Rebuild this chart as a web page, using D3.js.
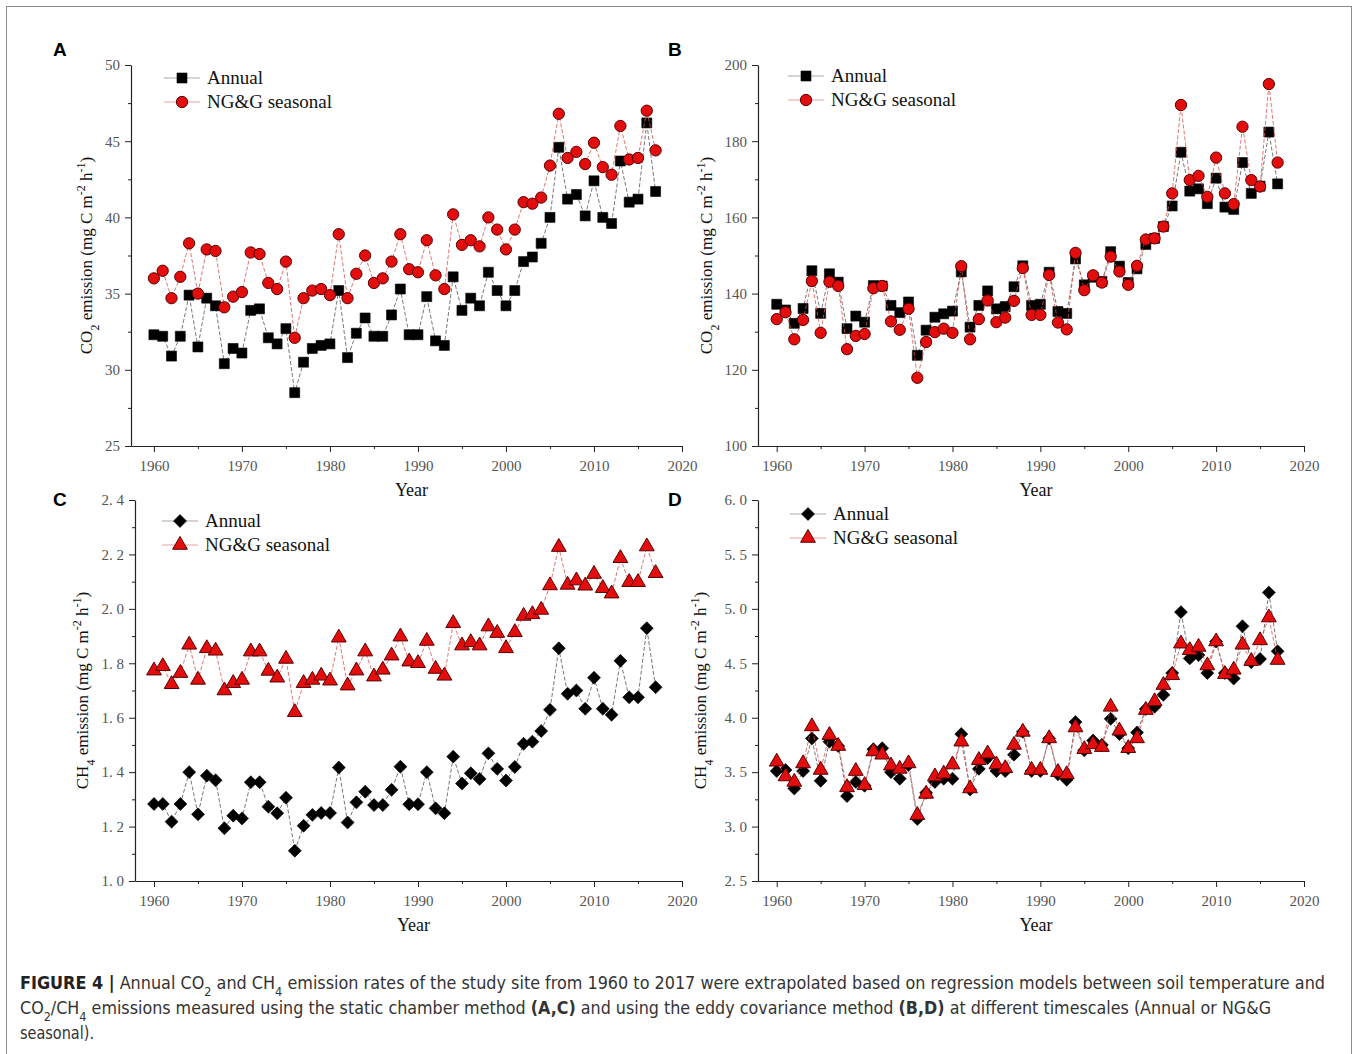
<!DOCTYPE html>
<html>
<head>
<meta charset="utf-8">
<script src="https://cdn.jsdelivr.net/npm/d3@7"></script>
<style>
  body { margin: 0; background: #fff; }
  svg { display: block; }
</style>
</head>
<body>
<div id="chart"></div>
<script>
// years on the x axis
var years = [1960, 1961, 1962, 1963, 1964, 1965, 1966, 1967, 1968, 1969,
    1970, 1971, 1972, 1973, 1974, 1975, 1976, 1977, 1978, 1979,
    1980, 1981, 1982, 1983, 1984, 1985, 1986, 1987, 1988, 1989,
    1990, 1991, 1992, 1993, 1994, 1995, 1996, 1997, 1998, 1999,
    2000, 2001, 2002, 2003, 2004, 2005, 2006, 2007, 2008, 2009,
    2010, 2011, 2012, 2013, 2014, 2015, 2016, 2017];

// A: CO2, static chamber
var co2ChamberAnnual = [32.3, 32.2, 30.9, 32.2, 34.9, 31.5, 34.7, 34.2, 30.4, 31.4,
    31.1, 33.9, 34.0, 32.1, 31.7, 32.7, 28.5, 30.5, 31.4, 31.6,
    31.7, 35.2, 30.8, 32.4, 33.4, 32.2, 32.2, 33.6, 35.3, 32.3,
    32.3, 34.8, 31.9, 31.6, 36.1, 33.9, 34.7, 34.2, 36.4, 35.2,
    34.2, 35.2, 37.1, 37.4, 38.3, 40.0, 44.6, 41.2, 41.5, 40.1,
    42.4, 40.0, 39.6, 43.7, 41.0, 41.2, 46.2, 41.7];
var co2ChamberSeasonal = [36.0, 36.5, 34.7, 36.1, 38.3, 35.0, 37.9, 37.8, 34.1, 34.8,
    35.1, 37.7, 37.6, 35.7, 35.3, 37.1, 32.1, 34.7, 35.2, 35.3,
    34.9, 38.9, 34.7, 36.3, 37.5, 35.7, 36.0, 37.1, 38.9, 36.6,
    36.4, 38.5, 36.2, 35.3, 40.2, 38.2, 38.5, 38.1, 40.0, 39.2,
    37.9, 39.2, 41.0, 40.9, 41.3, 43.4, 46.8, 43.9, 44.3, 43.5,
    44.9, 43.3, 42.8, 46.0, 43.8, 43.9, 47.0, 44.4];

// B: CO2, eddy covariance
var co2EddyAnnual = [137.2, 135.7, 132.2, 136.1, 146.0, 134.8, 145.2, 143.0, 130.8, 134.1,
    132.5, 142.1, 142.0, 136.9, 135.0, 137.8, 123.8, 130.4, 133.8, 134.7,
    135.4, 145.7, 131.2, 136.9, 140.7, 136.0, 136.6, 141.8, 147.3, 136.9,
    137.2, 145.6, 135.3, 134.8, 149.1, 142.3, 144.3, 143.2, 151.0, 147.2,
    142.9, 146.5, 152.9, 154.5, 157.6, 163.0, 177.1, 166.9, 167.5, 163.6,
    170.3, 162.7, 162.1, 174.4, 166.3, 168.2, 182.4, 168.8];
var co2EddySeasonal = [133.3, 135.1, 128.0, 133.1, 143.3, 129.7, 143.1, 142.0, 125.4, 128.9,
    129.4, 141.4, 142.0, 132.7, 130.5, 136.0, 117.9, 127.3, 129.9, 130.8,
    129.7, 147.2, 128.0, 133.3, 138.2, 132.5, 133.7, 138.1, 146.7, 134.4,
    134.4, 144.9, 132.4, 130.6, 150.7, 140.9, 144.8, 142.9, 149.7, 145.8,
    142.3, 147.3, 154.2, 154.5, 157.6, 166.3, 189.5, 169.8, 170.9, 165.4,
    175.7, 166.3, 163.5, 183.8, 169.8, 168.1, 195.0, 174.4];

// C: CH4, static chamber
var ch4ChamberAnnual = [1.283, 1.283, 1.218, 1.283, 1.400, 1.245, 1.387, 1.370, 1.194, 1.240,
    1.230, 1.363, 1.363, 1.273, 1.249, 1.306, 1.111, 1.203, 1.243, 1.250,
    1.250, 1.417, 1.215, 1.289, 1.328, 1.279, 1.279, 1.335, 1.420, 1.282,
    1.282, 1.400, 1.267, 1.249, 1.457, 1.358, 1.396, 1.375, 1.469, 1.412,
    1.369, 1.419, 1.504, 1.512, 1.551, 1.629, 1.855, 1.688, 1.700, 1.633,
    1.747, 1.633, 1.611, 1.809, 1.675, 1.675, 1.929, 1.712];
var ch4ChamberSeasonal = [1.773, 1.789, 1.723, 1.764, 1.868, 1.739, 1.855, 1.846, 1.700, 1.727,
    1.739, 1.843, 1.843, 1.772, 1.747, 1.816, 1.620, 1.727, 1.739, 1.754,
    1.736, 1.894, 1.718, 1.773, 1.843, 1.751, 1.776, 1.828, 1.898, 1.806,
    1.800, 1.882, 1.779, 1.754, 1.947, 1.865, 1.877, 1.865, 1.935, 1.911,
    1.855, 1.914, 1.974, 1.980, 1.996, 2.086, 2.227, 2.088, 2.104, 2.085,
    2.128, 2.076, 2.056, 2.186, 2.098, 2.098, 2.229, 2.131];

// D: CH4, eddy covariance
var ch4EddyAnnual = [3.51, 3.52, 3.35, 3.51, 3.81, 3.42, 3.78, 3.74, 3.28, 3.41,
    3.375, 3.71, 3.72, 3.50, 3.44, 3.565, 3.07, 3.31, 3.41, 3.44,
    3.44, 3.85, 3.34, 3.53, 3.63, 3.51, 3.51, 3.66, 3.87, 3.51,
    3.51, 3.81, 3.48, 3.43, 3.96, 3.70, 3.79, 3.75, 3.99, 3.85,
    3.72, 3.865, 4.08, 4.10, 4.21, 4.41, 4.97, 4.545, 4.575, 4.41,
    4.70, 4.41, 4.36, 4.84, 4.51, 4.54, 5.15, 4.61];
var ch4EddySeasonal = [3.595, 3.46, 3.41, 3.58, 3.92, 3.52, 3.84, 3.74, 3.36, 3.51,
    3.38, 3.69, 3.66, 3.56, 3.53, 3.58, 3.105, 3.30, 3.46, 3.485,
    3.57, 3.78, 3.35, 3.61, 3.67, 3.57, 3.535, 3.75, 3.87, 3.52,
    3.52, 3.81, 3.50, 3.48, 3.91, 3.71, 3.755, 3.73, 4.10, 3.88,
    3.72, 3.81, 4.07, 4.15, 4.30, 4.39, 4.68, 4.62, 4.65, 4.48,
    4.70, 4.40, 4.44, 4.67, 4.52, 4.71, 4.92, 4.53];

// tick labels
var xTicks = [1960, 1970, 1980, 1990, 2000, 2010, 2020];
var yTicksA = [25, 30, 35, 40, 45, 50];
var yTicksB = [100, 120, 140, 160, 180, 200];
var yTicksC = [1.0, 1.2, 1.4, 1.6, 1.8, 2.0, 2.2, 2.4];
var yTicksD = [2.5, 3.0, 3.5, 4.0, 4.5, 5.0, 5.5, 6.0];
var seriesNames = ["Annual", "NG&G seasonal"];

var W = 1359, H = 1054;
var serif = "'Liberation Serif', 'Times New Roman', serif";

var svg = d3.select("#chart").append("svg")
    .attr("width", W)
    .attr("height", H);

svg.append("rect").attr("width", W).attr("height", H).attr("fill", "#fff");
// figure frame
svg.append("rect")
    .attr("x", 6.5).attr("y", 6.5)
    .attr("width", 1345).attr("height", 1070)
    .attr("fill", "none").attr("stroke", "#8a8a8a").attr("stroke-width", 1);

var panels = [
    { letter: "A", left: 131, right: 682, top: 65, bottom: 446, xMin: 1957.4,
      yTicks: yTicksA, minorStep: 2.5, dec: false, gas: "CO", sub: "2",
      annual: co2ChamberAnnual, seasonal: co2ChamberSeasonal,
      aSym: "square", sSym: "circle", leg: [182, 78], titleX: 92, lx: 53, ly: 56 },
    { letter: "B", left: 758, right: 1304, top: 65, bottom: 446, xMin: 1957.87,
      yTicks: yTicksB, minorStep: 10, dec: false, gas: "CO", sub: "2",
      annual: co2EddyAnnual, seasonal: co2EddySeasonal,
      aSym: "square", sSym: "circle", leg: [806, 76], titleX: 712, lx: 668, ly: 56 },
    { letter: "C", left: 135, right: 682, top: 500, bottom: 881, xMin: 1957.84,
      yTicks: yTicksC, minorStep: 0.1, dec: true, gas: "CH", sub: "4",
      annual: ch4ChamberAnnual, seasonal: ch4ChamberSeasonal,
      aSym: "diamond", sSym: "triangle", leg: [180, 521], titleX: 88, lx: 53, ly: 506 },
    { letter: "D", left: 758, right: 1304, top: 500, bottom: 881, xMin: 1957.87,
      yTicks: yTicksD, minorStep: 0.25, dec: true, gas: "CH", sub: "4",
      annual: ch4EddyAnnual, seasonal: ch4EddySeasonal,
      aSym: "diamond", sSym: "triangle", leg: [808, 514], titleX: 706, lx: 668, ly: 506 }
];

function symbolPath(kind) {
    if (kind === "square") return d3.symbol(d3.symbolSquare, 100)();
    if (kind === "circle") return d3.symbol(d3.symbolCircle, 100)();
    if (kind === "diamond") return d3.symbol(d3.symbolSquare, 84)();
    return d3.symbol(d3.symbolTriangle, 95)();
}

function markStyle(sel, kind, red) {
    sel.attr("d", symbolPath(kind))
        .attr("fill", red ? "#e30d0d" : "#000")
        .attr("stroke", red ? "#5a0000" : "#000")
        .attr("stroke-width", red ? 1 : 0.6);
}

panels.forEach(function(p) {
    var x = d3.scaleLinear().domain([p.xMin, 2020]).range([p.left, p.right]);
    var yMin = p.yTicks[0], yMax = p.yTicks[p.yTicks.length - 1];
    var y = d3.scaleLinear().domain([yMin, yMax]).range([p.bottom, p.top]);
    var g = svg.append("g");

    var fmt = p.dec ? function(d) { return d3.format(".1f")(d).replace(".", ". "); } : d3.format("d");

    // minor ticks
    var yMinor = d3.range(yMin, yMax + 1e-9, p.minorStep).filter(function(v) {
        return p.yTicks.every(function(t) { return Math.abs(t - v) > 1e-6; });
    });
    var xMinor = [1965, 1975, 1985, 1995, 2005, 2015];

    g.append("g").attr("transform", "translate(" + p.left + ",0)")
        .call(d3.axisLeft(y).tickValues(yMinor).tickSize(3).tickSizeOuter(0).tickFormat(""))
        .call(function(a) { a.select(".domain").remove(); });
    g.append("g").attr("transform", "translate(0," + p.bottom + ")")
        .call(d3.axisBottom(x).tickValues(xMinor).tickSize(3).tickSizeOuter(0).tickFormat(""))
        .call(function(a) { a.select(".domain").remove(); });

    // y axis
    var ya = g.append("g").attr("transform", "translate(" + p.left + ",0)")
        .call(d3.axisLeft(y).tickValues(p.yTicks).tickSize(6).tickSizeOuter(0).tickPadding(5).tickFormat(fmt));
    // x axis
    var xa = g.append("g").attr("transform", "translate(0," + p.bottom + ")")
        .call(d3.axisBottom(x).tickValues(xTicks).tickSize(6).tickSizeOuter(0).tickPadding(8).tickFormat(d3.format("d")));

    [ya, xa].forEach(function(a) {
        a.attr("font-family", serif).attr("font-size", 15);
        a.selectAll("text").attr("font-family", serif).attr("font-size", 15).attr("fill", "#555");
        a.selectAll("line").attr("stroke", "#222");
        a.select(".domain").attr("stroke", "#222").attr("stroke-width", 1.2);
    });
    g.selectAll(".tick line").attr("stroke", "#222");

    // axis titles
    g.append("text")
        .attr("x", (p.left + p.right) / 2 + 5)
        .attr("y", p.bottom + 50)
        .attr("text-anchor", "middle")
        .attr("font-family", serif).attr("font-size", 18).attr("fill", "#111")
        .text("Year");

    var yt = g.append("text")
        .attr("transform", "translate(" + p.titleX + "," + ((p.top + p.bottom) / 2) + ") rotate(-90)")
        .attr("text-anchor", "middle")
        .attr("font-family", serif).attr("font-size", 17).attr("fill", "#111");
    yt.append("tspan").text(p.gas);
    yt.append("tspan").attr("baseline-shift", "sub").attr("font-size", 12).text(p.sub);
    yt.append("tspan").text(" emission (mg C m");
    yt.append("tspan").attr("baseline-shift", "super").attr("font-size", 12).text("-2");
    yt.append("tspan").text(" h");
    yt.append("tspan").attr("baseline-shift", "super").attr("font-size", 12).text("-1");
    yt.append("tspan").text(")");

    // panel letter
    svg.append("text")
        .attr("x", p.lx).attr("y", p.ly)
        .attr("font-family", "'Liberation Sans', Arial, sans-serif")
        .attr("font-weight", "bold").attr("font-size", 19)
        .text(p.letter);

    // series
    var series = [
        { vals: p.annual, kind: p.aSym, red: false, line: "#555" },
        { vals: p.seasonal, kind: p.sSym, red: true, line: "#d9534f" }
    ];
    series.forEach(function(s) {
        var pts = years.map(function(yr, i) { return [yr, s.vals[i]]; });
        g.append("path")
            .datum(pts)
            .attr("fill", "none")
            .attr("stroke", s.line)
            .attr("stroke-width", 0.8)
            .attr("stroke-dasharray", "4,2")
            .attr("d", d3.line().x(function(d) { return x(d[0]); }).y(function(d) { return y(d[1]); }));
        g.selectAll(null)
            .data(pts)
            .enter().append("path")
            .attr("transform", function(d) {
                return "translate(" + x(d[0]) + "," + y(d[1]) + ")" + (s.kind === "diamond" ? " rotate(45)" : "");
            })
            .call(markStyle, s.kind, s.red);
    });

    // legend
    series.forEach(function(s, i) {
        var lx = p.leg[0], ly = p.leg[1] + i * 24;
        g.append("line")
            .attr("x1", lx - 18).attr("x2", lx + 18)
            .attr("y1", ly).attr("y2", ly)
            .attr("stroke", s.red ? "#e8a0a0" : "#aaa").attr("stroke-width", 1);
        g.append("path")
            .attr("transform", "translate(" + lx + "," + ly + ")" + (s.kind === "diamond" ? " rotate(45)" : ""))
            .call(markStyle, s.kind, s.red);
        g.append("text")
            .attr("x", lx + 25).attr("y", ly + 6)
            .attr("font-family", serif).attr("font-size", 19).attr("fill", "#111")
            .text(seriesNames[i]);
    });
});

// caption
var capFont = "'DejaVu Sans Condensed', 'Liberation Sans Narrow', 'Liberation Sans', sans-serif";
var cap = svg.append("g").attr("font-family", capFont).attr("font-size", 17).attr("fill", "#333");

var l1 = cap.append("text").attr("x", 20).attr("y", 989)
    .attr("textLength", 1305).attr("lengthAdjust", "spacingAndGlyphs");
l1.append("tspan").attr("font-weight", "bold").attr("fill", "#222").text("FIGURE 4 |");
l1.append("tspan").text(" Annual CO");
l1.append("tspan").attr("baseline-shift", "sub").attr("font-size", 12).text("2");
l1.append("tspan").text(" and CH");
l1.append("tspan").attr("baseline-shift", "sub").attr("font-size", 12).text("4");
l1.append("tspan").text(" emission rates of the study site from 1960 to 2017 were extrapolated based on regression models between soil temperature and");

var l2 = cap.append("text").attr("x", 20).attr("y", 1014)
    .attr("textLength", 1251).attr("lengthAdjust", "spacingAndGlyphs");
l2.append("tspan").text("CO");
l2.append("tspan").attr("baseline-shift", "sub").attr("font-size", 12).text("2");
l2.append("tspan").text("/CH");
l2.append("tspan").attr("baseline-shift", "sub").attr("font-size", 12).text("4");
l2.append("tspan").text(" emissions measured using the static chamber method ");
l2.append("tspan").attr("font-weight", "bold").text("(A,C)");
l2.append("tspan").text(" and using the eddy covariance method ");
l2.append("tspan").attr("font-weight", "bold").text("(B,D)");
l2.append("tspan").text(" at different timescales (Annual or NG&G");

cap.append("text").attr("x", 20).attr("y", 1039)
    .attr("textLength", 74).attr("lengthAdjust", "spacingAndGlyphs")
    .text("seasonal).");
</script>
</body>
</html>
